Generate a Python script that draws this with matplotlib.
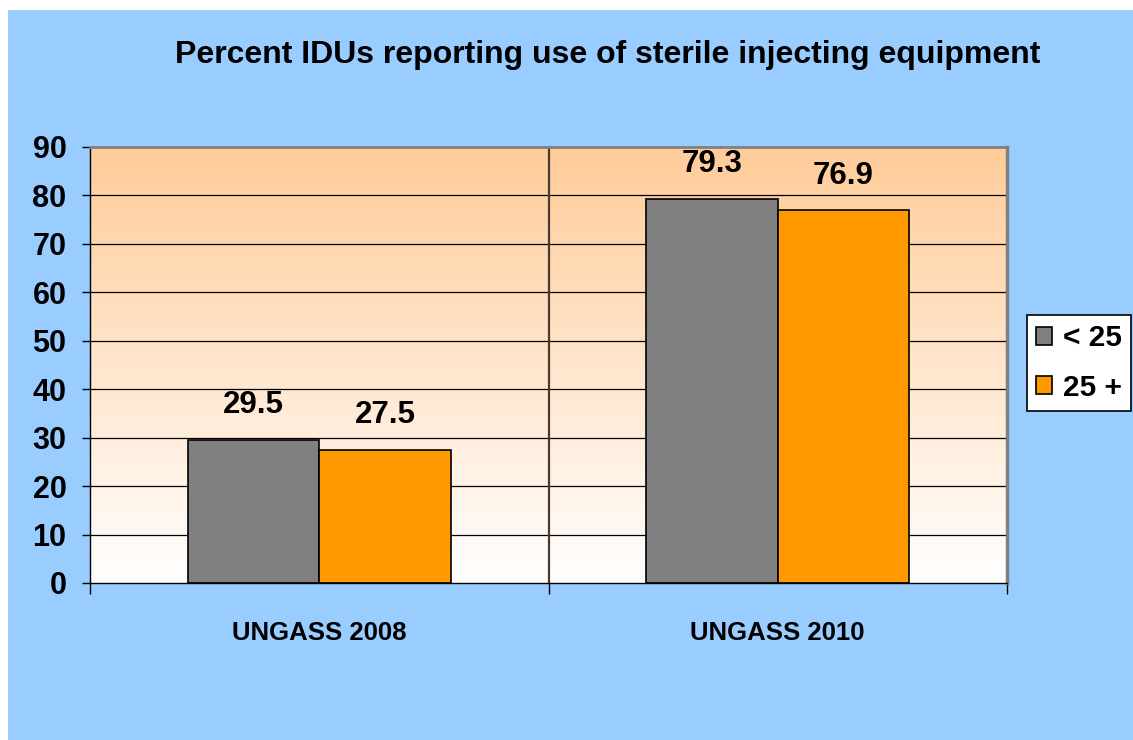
"""
Percent IDUs reporting use of sterile injecting equipment — grouped bar chart.
Old-style Excel look: light blue canvas, peach-to-white gradient plot area.
"""

import matplotlib
matplotlib.use("Agg")
import matplotlib.pyplot as plt
from matplotlib.patches import Rectangle, Patch
import numpy as np

plt.rcParams["font.family"] = ["Liberation Sans", "DejaVu Sans"]
plt.rcParams["font.weight"] = "bold"

SKY_BLUE   = "#99CCFF"
PEACH      = "#FFCC99"
BAR_GRAY   = "#808080"
BAR_ORANGE = "#FF9900"
BLACK      = "#000000"
WHITE      = "#FFFFFF"

# data
CATEGORIES    = ["UNGASS 2008", "UNGASS 2010"]
SERIES_LABELS = ["< 25", "25 +"]
UNDER_25      = [29.5, 79.3]
OVER_25       = [27.5, 76.9]
Y_TICKS       = [0, 10, 20, 30, 40, 50, 60, 70, 80, 90]

TITLE = "Percent IDUs reporting use of sterile injecting equipment"


def gradient_background(ax, ymax):
    # peach at the top fading to white at the bottom
    top = np.array(matplotlib.colors.to_rgb(PEACH))
    bot = np.array(matplotlib.colors.to_rgb(WHITE))
    t = np.linspace(0, 1, 256)[:, None]
    grad = (bot * (1 - t) + top * t)[:, None, :]
    ax.imshow(grad, extent=[0, len(CATEGORIES), 0, ymax], origin="lower",
              aspect="auto", zorder=0, interpolation="bilinear")


def make_chart():
    fig = plt.figure(figsize=(11.33, 7.40), dpi=100, facecolor=WHITE)
    # blue canvas, with a thin white margin on the left and top
    fig.patches.append(Rectangle((8 / 1133, 0), 1, 730 / 740, transform=fig.transFigure,
                                 facecolor=SKY_BLUE, edgecolor="none", zorder=-10))

    ax = fig.add_axes([90 / 1133, 1 - 583 / 740, 917 / 1133, 436 / 740])
    ymax = Y_TICKS[-1]
    n = len(CATEGORIES)
    ax.set_xlim(0, n)
    ax.set_ylim(0, ymax)
    gradient_background(ax, ymax)

    # gridlines
    for y in Y_TICKS[1:-1]:
        ax.axhline(y, color=BLACK, lw=0.9, zorder=1)
    for x in range(1, n):
        ax.axvline(x, color="#4a3b30", lw=1.6, zorder=1)

    centers = np.arange(n) + 0.5
    w = 0.287
    ax.bar(centers - w / 2, UNDER_25, width=w, color=BAR_GRAY, edgecolor=BLACK,
           lw=1.2, zorder=3, label=SERIES_LABELS[0])
    ax.bar(centers + w / 2, OVER_25, width=w, color=BAR_ORANGE, edgecolor=BLACK,
           lw=1.2, zorder=3, label=SERIES_LABELS[1])

    for xs, vals in ((centers - w / 2, UNDER_25), (centers + w / 2, OVER_25)):
        for x, v in zip(xs, vals):
            ax.annotate(f"{v:.1f}", xy=(x, v), xytext=(0, 25), textcoords="offset points",
                        ha="center", va="center", fontsize=22.5, fontweight="bold", color=BLACK)

    # spines: Excel style, grey top/right border
    for side in ("left", "bottom"):
        ax.spines[side].set_color(BLACK)
        ax.spines[side].set_linewidth(1.0)
    ax.spines["top"].set_color(BAR_GRAY)
    ax.spines["top"].set_linewidth(2.0)
    ax.spines["right"].set_color(BAR_GRAY)
    ax.spines["right"].set_linewidth(2.5)
    for s in ax.spines.values():
        s.set_zorder(5)

    ax.set_yticks(Y_TICKS)
    ax.set_yticklabels([str(v) for v in Y_TICKS], fontsize=22, fontweight="bold")
    ax.tick_params(axis="y", direction="out", length=6, width=1, pad=11, color=BLACK)

    ax.set_xticks(range(n + 1))
    ax.set_xticklabels([])
    ax.tick_params(axis="x", which="major", direction="out", length=8, width=1, color=BLACK)
    ax.set_xticks(centers, minor=True)
    ax.set_xticklabels(CATEGORIES, minor=True, fontsize=18.5, fontweight="bold")
    ax.tick_params(axis="x", which="minor", length=0, pad=27)

    fig.text(608 / 1133, 1 - 55 / 740, TITLE, ha="center", va="center",
             fontsize=23, fontweight="bold", color=BLACK)

    handles = [Patch(facecolor=BAR_GRAY, edgecolor=BLACK, lw=1.2),
               Patch(facecolor=BAR_ORANGE, edgecolor=BLACK, lw=1.2)]
    leg = fig.legend(handles, SERIES_LABELS, loc="center left",
                     bbox_to_anchor=(1027 / 1133, 1 - 363 / 740),
                     prop={"size": 21.5, "weight": "bold"},
                     handlelength=0.55, handleheight=0.55, handletextpad=0.35,
                     borderpad=0.3, labelspacing=0.72, borderaxespad=0,
                     fancybox=False, shadow=False, framealpha=1)
    leg.get_frame().set_edgecolor(BLACK)
    leg.get_frame().set_linewidth(1.2)

    fig.savefig("out.png", dpi=100, facecolor=fig.get_facecolor())
    plt.close(fig)


if __name__ == "__main__":
    make_chart()
